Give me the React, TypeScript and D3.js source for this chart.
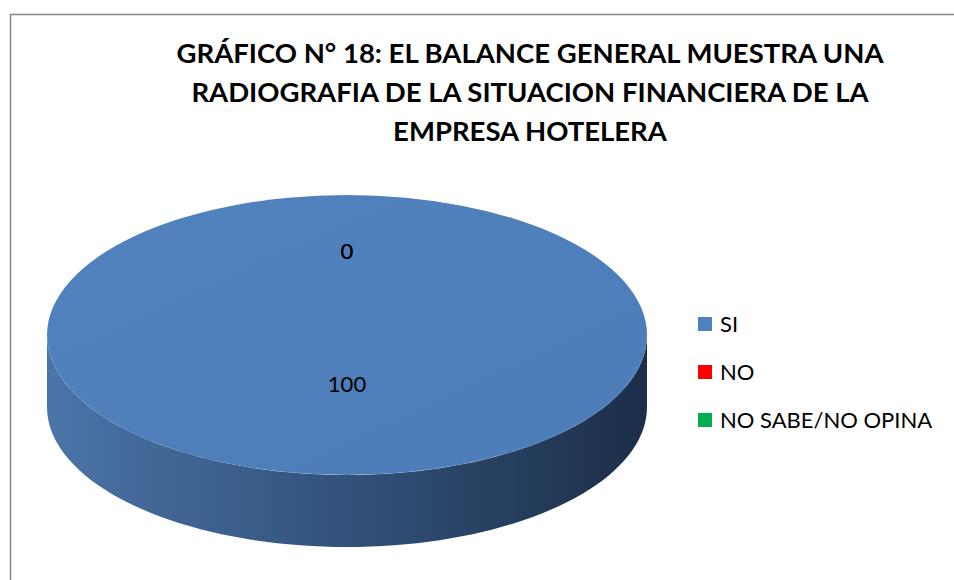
import React from "react";
import * as d3 from "d3";

const categories = ["SI", "NO", "NO SABE/NO OPINA"];
const values = [100, 0, 0];
const colors = ["#4f81bd", "#ff0000", "#00b050"];
const titleLines = [
  "GRÁFICO N° 18: EL BALANCE GENERAL MUESTRA UNA",
  "RADIOGRAFIA DE LA SITUACION FINANCIERA DE LA",
  "EMPRESA HOTELERA",
];

const W = 954;
const H = 580;
const cx = 347;
const cy = 335;
const rx = 300;
const ry = 140;
const depth = 72;
const font = "Lato, 'Open Sans', sans-serif";

export default function App() {
  const pie = d3.pie<number>().sort(null).value((d) => d);
  const arcs = pie(values);
  const arc = d3.arc<d3.PieArcDatum<number>>().innerRadius(0).outerRadius(rx);

  const sidePath = (() => {
    const p = d3.path();
    p.moveTo(cx - rx, cy);
    const n = 80;
    for (let i = 0; i <= n; i++) {
      const a = Math.PI - (Math.PI * i) / n;
      p.lineTo(cx + rx * Math.cos(a), cy + ry * Math.sin(a));
    }
    p.lineTo(cx + rx, cy + depth);
    for (let i = 0; i <= n; i++) {
      const a = (Math.PI * i) / n;
      p.lineTo(cx + rx * Math.cos(a), cy + depth + ry * Math.sin(a));
    }
    p.closePath();
    return p.toString();
  })();

  const labelCy = cy - 17;
  const labelR = 0.475 * ry;

  const legendY = d3.scalePoint<string>().domain(categories).range([324, 420]);

  return (
    <svg width={W} height={H} style={{ position: "absolute", left: 0, top: 0, background: "#fff" }}>
      <defs>
        <linearGradient id="sideGrad" x1="0" x2="1" y1="0" y2="0">
          <stop offset="0" stopColor="#4b74a8" />
          <stop offset="0.45" stopColor="#34557f" />
          <stop offset="1" stopColor="#1c2e48" />
        </linearGradient>
        <linearGradient id="topGrad" x1="0" x2="1" y1="0" y2="1">
          <stop offset="0" stopColor="#5182be" />
          <stop offset="1" stopColor="#4c7db8" />
        </linearGradient>
      </defs>
      <rect x={10.5} y={14.5} width={W + 20} height={H + 20} fill="#fff" stroke="#868686" strokeWidth={1.5} />
      <g fontFamily={font} fontWeight="bold" fontSize={27.5} textAnchor="middle" fill="#000">
        {titleLines.map((t, i) => (
          <text key={i} x={530} y={63 + i * 39}>
            {t}
          </text>
        ))}
      </g>
      <path d={sidePath} fill="url(#sideGrad)" />
      <g transform={`translate(${cx},${cy}) scale(1,${ry / rx})`}>
        {arcs.map((d, i) =>
          d.endAngle > d.startAngle ? (
            <path key={i} d={arc(d) || ""} fill={i === 0 ? "url(#topGrad)" : colors[i]} />
          ) : null
        )}
      </g>
      <g fontFamily={font} fontSize={22} textAnchor="middle" fill="#000">
        {arcs.map((d, i) => {
          const a = (d.startAngle + d.endAngle) / 2;
          const y = labelCy - labelR * Math.cos(a);
          return (
            <text key={i} x={cx} y={y} dy="0.35em">
              {values[i]}
            </text>
          );
        })}
      </g>
      <g fontFamily={font} fontSize={22} fill="#000">
        {categories.map((c, i) => (
          <g key={c} transform={`translate(698,${legendY(c)})`}>
            <rect x={0} y={-7} width={14} height={14} fill={colors[i]} />
            <text x={22} y={0} dy="0.35em">
              {c}
            </text>
          </g>
        ))}
      </g>
    </svg>
  );
}
